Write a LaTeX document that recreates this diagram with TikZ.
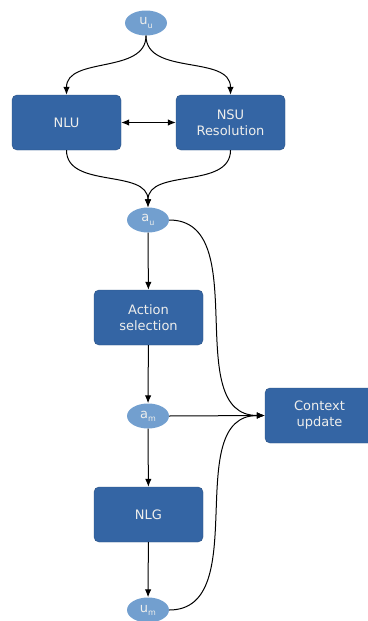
\documentclass[tikz,border=0pt]{standalone}
\usepackage{fontspec}
\setmainfont{DejaVu Sans}
\usetikzlibrary{arrows.meta,shapes.geometric}
\definecolor{boxblue}{HTML}{3465A4}
\definecolor{ellblue}{HTML}{729FCF}
\definecolor{txt}{HTML}{EEEEEC}
\newcommand{\sub}[2]{#1\raisebox{-0.45ex}{\fontsize{8}{8}\selectfont #2}}
\begin{document}
\begin{tikzpicture}[x=1pt,y=-1pt,
    module/.style={draw=boxblue!80!black,fill=boxblue,text=txt,rounded corners=5pt,
      minimum width=109pt,minimum height=55pt,align=center,
      font=\fontsize{13}{16}\selectfont},
    act/.style={ellipse,fill=ellblue,text=txt,minimum width=42pt,minimum height=25pt,
      inner sep=0pt,font=\fontsize{13}{16}\selectfont},
    tip/.tip={Latex[length=8pt,width=6.5pt]}]
  \useasboundingbox (0,0) rectangle (367,621);
  \draw
    (146,23) node[act] (uu){\sub{u}{u}}
    (66.5,122.5) node[module] (nlu){NLU}
    (230.5,122.5) node[module] (nsu){NSU\\Resolution}
    (148,220) node[act] (au){\sub{a}{u}}
    (148.5,317.5) node[module] (actsel){Action\\selection}
    (148,416) node[act] (am){\sub{a}{m}}
    (319.5,415.5) node[module] (ctx){Context\\update}
    (148.5,514.5) node[module] (nlg){NLG}
    (148,610) node[act] (um){\sub{u}{m}};
  \begin{scope}[-tip,line width=1pt]
    \draw (uu.south) to[out=-90,in=90] (nlu.north);
    \draw (uu.south) to[out=-90,in=90] (nsu.north);
    \draw[tip-tip] (nlu) to (nsu);
    \draw (nlu.south) to[out=-90,in=90] (au.north);
    \draw (nsu.south) to[out=-90,in=90] (au.north);
    \draw (au) to (actsel);
    \draw (actsel) to (am);
    \draw (am) to (nlg);
    \draw (nlg) to (um);
    \draw (au.east) to[out=0,in=180] (ctx.west);
    \draw (am.east) to (ctx.west);
    \draw (um.east) to[out=0,in=180] (ctx.west);
  \end{scope}
\end{tikzpicture}
\end{document}
